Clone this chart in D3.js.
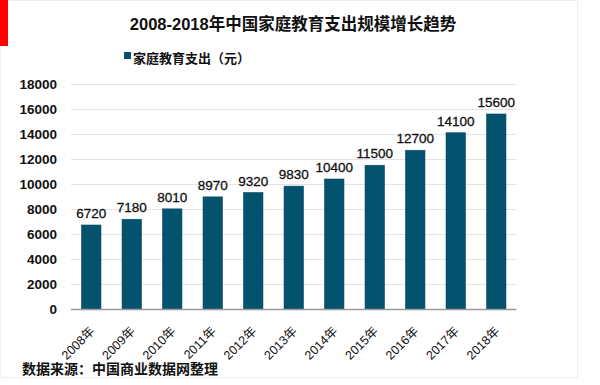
<!DOCTYPE html>
<html>
<head>
<meta charset="utf-8">
<script src="https://cdn.jsdelivr.net/npm/d3@7"></script>
<style>
  body { margin: 0; background: #fff; }
  #chart { width: 600px; height: 385px; }
  text { font-family: "Liberation Sans", Arial, "Noto Sans CJK SC", sans-serif; }
</style>
</head>
<body>
<div id="chart"></div>
<script>
// Chart data
const years = ["2008年", "2009年", "2010年", "2011年", "2012年", "2013年", "2014年", "2015年", "2016年", "2017年", "2018年"];
const spending = [6720, 7180, 8010, 8970, 9320, 9830, 10400, 11500, 12700, 14100, 15600];
const yTicks = [0, 2000, 4000, 6000, 8000, 10000, 12000, 14000, 16000, 18000];

const width = 600;
const height = 385;
const margin = { top: 84, right: 84, bottom: 76, left: 71 };

const svg = d3.select("#chart").append("svg")
  .attr("width", width)
  .attr("height", height);

// faint frame and red accent
svg.append("rect")
  .attr("x", 0.5).attr("y", 0.5)
  .attr("width", 577).attr("height", 377)
  .attr("fill", "#fff")
  .attr("stroke", "#eeeeee");

svg.append("rect")
  .attr("x", 0).attr("y", 0)
  .attr("width", 8).attr("height", 46)
  .attr("fill", "#ff0000");

const x = d3.scaleBand()
  .domain(years)
  .range([margin.left, width - margin.right + 0.5])
  .paddingInner(0.52)
  .paddingOuter(0.26);

const y = d3.scaleLinear()
  .domain([0, 18000])
  .range([height - margin.bottom, margin.top]);

// gridlines
svg.append("g")
  .selectAll("line")
  .data(yTicks.slice(1))
  .join("line")
  .attr("x1", margin.left)
  .attr("x2", width - margin.right + 0.5)
  .attr("y1", (d) => Math.round(y(d)) + 0.5)
  .attr("y2", (d) => Math.round(y(d)) + 0.5)
  .attr("stroke", "#e3e3e3");

// y axis labels
const yAxis = (g) =>
  g
    .attr("transform", `translate(${margin.left - 14},0)`)
    .call(d3.axisLeft(y).tickValues(yTicks).tickFormat(d3.format("d")).tickSize(0).tickPadding(0))
    .call((g) => g.select(".domain").remove())
    .selectAll("text")
    .style("font-size", "13.5px")
    .style("font-weight", "bold")
    .attr("fill", "#111");

svg.append("g").call(yAxis);

// bars
svg.append("g")
  .selectAll("rect")
  .data(spending)
  .join("rect")
  .attr("x", (d, i) => x(years[i]))
  .attr("y", (d) => y(d))
  .attr("width", x.bandwidth())
  .attr("height", (d) => y(0) - y(d))
  .attr("fill", "#03536f")
  .attr("stroke", "#0b4a61")
  .attr("stroke-width", 0.6);

// value labels
svg.append("g")
  .selectAll("text")
  .data(spending)
  .join("text")
  .attr("x", (d, i) => x(years[i]) + x.bandwidth() / 2)
  .attr("y", (d) => y(d) - 7)
  .attr("text-anchor", "middle")
  .attr("fill", "#111")
  .attr("stroke", "#111")
  .attr("stroke-width", 0.3)
  .style("font-size", "13.5px")
  .text((d) => d);

// x axis line
svg.append("line")
  .attr("x1", margin.left)
  .attr("x2", width - margin.right + 0.5)
  .attr("y1", y(0) + 0.5)
  .attr("y2", y(0) + 0.5)
  .attr("stroke", "#9a9a9a")
  .attr("stroke-width", 1.6);

// x labels, rotated
svg.append("g")
  .selectAll("text")
  .data(years)
  .join("text")
  .attr("transform", (d) => `translate(${x(d) + x.bandwidth() / 2 + 4},${y(0) + 23}) rotate(-45)`)
  .attr("text-anchor", "end")
  .attr("fill", "#111")
  .style("font-size", "12.5px")
  .text((d) => d);

// title
svg.append("text")
  .attr("x", 293)
  .attr("y", 30)
  .attr("text-anchor", "middle")
  .attr("fill", "#111")
  .style("font-size", "16.5px")
  .style("font-weight", "bold")
  .text("2008-2018年中国家庭教育支出规模增长趋势");

// legend
svg.append("rect")
  .attr("x", 124).attr("y", 52)
  .attr("width", 7).attr("height", 7)
  .attr("fill", "#03536f");

svg.append("text")
  .attr("x", 133)
  .attr("y", 63)
  .attr("fill", "#111")
  .style("font-size", "13px")
  .style("font-weight", "bold")
  .text("家庭教育支出（元）");

// source note
svg.append("text")
  .attr("x", 22)
  .attr("y", 374)
  .attr("fill", "#111")
  .style("font-size", "14px")
  .style("font-weight", "bold")
  .text("数据来源：中国商业数据网整理");
</script>
</body>
</html>
